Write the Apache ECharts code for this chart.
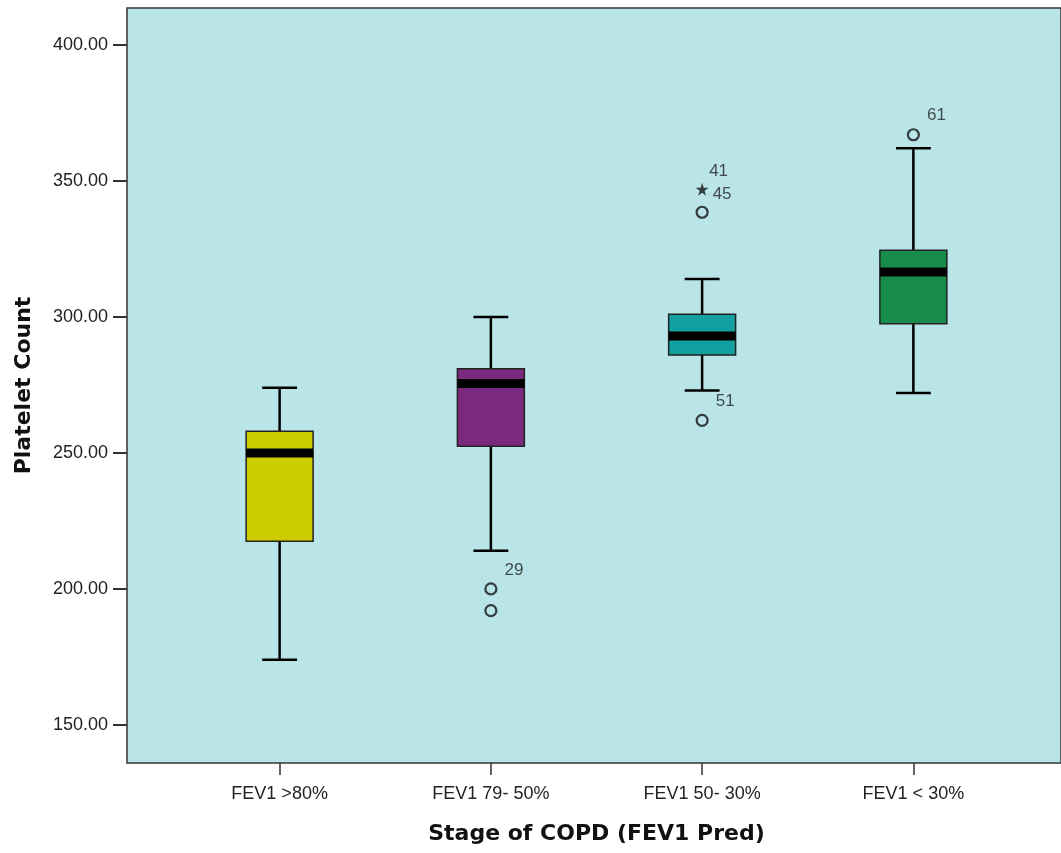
<!DOCTYPE html>
<html><head><meta charset="utf-8">
<script src="https://cdn.jsdelivr.net/npm/echarts@6/dist/echarts.min.js"></script>
<style>html,body{margin:0;padding:0;background:#fff}#c{width:1061px;height:853px}</style>
</head><body><div id="c"></div>
<script>
// ---- data ----
const categories = ['FEV1 >80%', 'FEV1 79- 50%', 'FEV1 50- 30%', 'FEV1 < 30%'];
const whiskerLow = [174, 214, 273, 272];
const q1 = [217.5, 252.5, 286, 297.5];
const medians = [250, 275.5, 293, 316.5];
const q3 = [258, 281, 301, 324.5];
const whiskerHigh = [274, 300, 314, 362];
const boxColors = ['#cccc00', '#7a2a7e', '#12a0a0', '#178c4a'];
// outliers (circles)
const outlierCat = [1, 1, 2, 2, 3];
const outlierVal = [200, 192, 338.5, 262, 367];
const outlierId = ['29', '', '', '51', '61'];
// extremes (stars)
const extremeCat = [2];
const extremeVal = [347];
const extremeIdTop = ['41'];
const extremeIdRight = ['45'];
const yTicks = [150, 200, 250, 300, 350, 400];

const Y_MIN = 136, Y_MAX = 413.6;
const fontFam = 'Liberation Sans, Arial, sans-serif';

const boxData = categories.map((c, i) => [i, whiskerLow[i], q1[i], medians[i], q3[i], whiskerHigh[i]]);
const outData = outlierCat.map((c, i) => ({ value: [c, outlierVal[i]], id: outlierId[i] }));
const extData = extremeCat.map((c, i) => ({ value: [c, extremeVal[i]], top: extremeIdTop[i], right: extremeIdRight[i] }));

const chart = echarts.init(document.getElementById('c'), null, { renderer: 'canvas' });
const option = {
  backgroundColor: '#ffffff',
  animation: false,
  grid: [
    { left: 127, top: 8, right: -10, bottom: 90, show: true, backgroundColor: '#b9e5e8', borderColor: '#333', borderWidth: 1.5 },
    { left: 174, top: 8, width: 845, bottom: 90 }
  ],
  xAxis: [
    { gridIndex: 0, type: 'value', min: 0, max: 1, show: false },
    { gridIndex: 1, type: 'category', data: categories,
      axisLine: { show: false },
      axisTick: { show: true, alignWithLabel: true, length: 12, lineStyle: { color: '#333', width: 1.5 } },
      axisLabel: { color: '#222', fontSize: 18, fontFamily: fontFam, margin: 22 },
      name: 'Stage of COPD (FEV1 Pred)', nameLocation: 'middle', nameGap: 60,
      nameTextStyle: { fontSize: 22, fontWeight: 'bold', color: '#111', fontFamily: 'DejaVu Sans, sans-serif' }
    }
  ],
  yAxis: [
    { gridIndex: 0, type: 'value', min: Y_MIN, max: Y_MAX,
      axisLine: { show: false },
      axisTick: { show: true, length: 14, customValues: yTicks, lineStyle: { color: '#333', width: 2 } },
      axisLabel: { show: true, customValues: yTicks, fontSize: 18, color: '#222', fontFamily: fontFam, margin: 19,
        formatter: v => (yTicks.indexOf(Math.round(v)) >= 0 && Math.abs(v - Math.round(v)) < 1e-6) ? v.toFixed(2) : '' },
      splitLine: { show: false },
      name: 'Platelet Count', nameLocation: 'middle', nameGap: 92,
      nameTextStyle: { fontSize: 22, fontWeight: 'bold', color: '#111', fontFamily: 'DejaVu Sans, sans-serif' }
    },
    { gridIndex: 1, type: 'value', min: Y_MIN, max: Y_MAX, show: false, splitLine: { show: false } }
  ],
  series: [
    {
      type: 'custom', xAxisIndex: 1, yAxisIndex: 1,
      encode: { x: 0, y: [1, 2, 3, 4, 5] },
      data: boxData,
      renderItem: function (params, api) {
        const i = api.value(0);
        const pLow = api.coord([i, api.value(1)]);
        const pQ1 = api.coord([i, api.value(2)]);
        const pMed = api.coord([i, api.value(3)]);
        const pQ3 = api.coord([i, api.value(4)]);
        const pHigh = api.coord([i, api.value(5)]);
        const bw = api.size([1, 0])[0];
        const boxW = bw * 0.317, capW = bw * 0.165;
        const x = pLow[0];
        const lineStyle = { stroke: '#000', lineWidth: 2.5 };
        return {
          type: 'group',
          children: [
            { type: 'line', shape: { x1: x, y1: pHigh[1], x2: x, y2: pQ3[1] }, style: lineStyle },
            { type: 'line', shape: { x1: x, y1: pQ1[1], x2: x, y2: pLow[1] }, style: lineStyle },
            { type: 'line', shape: { x1: x - capW / 2, y1: pHigh[1], x2: x + capW / 2, y2: pHigh[1] }, style: lineStyle },
            { type: 'line', shape: { x1: x - capW / 2, y1: pLow[1], x2: x + capW / 2, y2: pLow[1] }, style: lineStyle },
            { type: 'rect', shape: { x: x - boxW / 2, y: pQ3[1], width: boxW, height: pQ1[1] - pQ3[1] },
              style: { fill: boxColors[i], stroke: '#222', lineWidth: 1.5 } },
            { type: 'rect', shape: { x: x - boxW / 2, y: pMed[1] - 4.5, width: boxW, height: 9 },
              style: { fill: '#000' } }
          ]
        };
      }
    },
    {
      type: 'scatter', xAxisIndex: 1, yAxisIndex: 1,
      symbol: 'circle', symbolSize: 11,
      itemStyle: { color: 'rgba(0,0,0,0)', borderColor: '#111', borderWidth: 2.2 },
      data: outData,
      label: { show: true, position: 'right', offset: [2, -19], fontSize: 17, color: '#222', fontFamily: fontFam,
        formatter: p => p.data.id }
    },
    {
      type: 'scatter', xAxisIndex: 1, yAxisIndex: 1,
      symbol: 'path://M50,0 L61,35 L98,35 L68,57 L79,91 L50,70 L21,91 L32,57 L2,35 L39,35 Z',
      symbolSize: 13,
      itemStyle: { color: '#111' },
      data: extData,
      label: { show: true, position: 'right', offset: [-1, 5], fontSize: 17, color: '#222', fontFamily: fontFam,
        formatter: p => p.data.right }
    },
    {
      type: 'scatter', xAxisIndex: 1, yAxisIndex: 1,
      symbolSize: 0, silent: true,
      data: extData,
      label: { show: true, position: 'right', offset: [2, -18], fontSize: 17, color: '#222', fontFamily: fontFam,
        formatter: p => p.data.top }
    }
  ]
};
chart.setOption(option);
</script>
</body></html>
